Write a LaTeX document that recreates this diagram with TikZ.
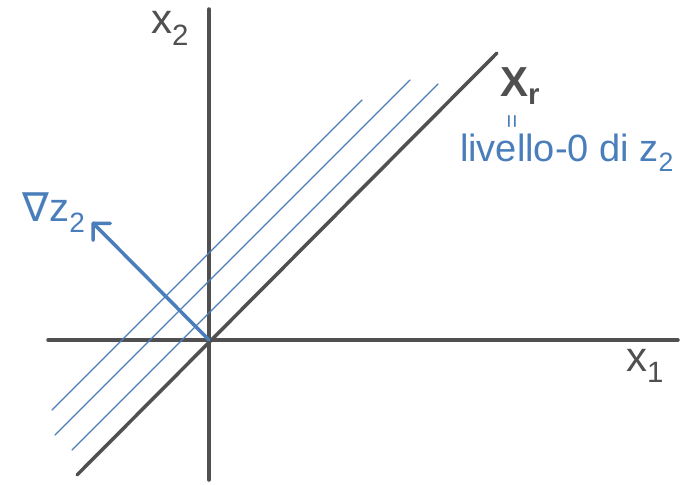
\documentclass[tikz,border=0pt]{standalone}
\usepackage{fontspec}
\setmainfont{Liberation Sans}
\newfontfamily\dejavu{DejaVu Sans}
\usetikzlibrary{arrows.meta}
\definecolor{axisgray}{HTML}{505050}
\definecolor{hblue}{HTML}{4A7EBB}
\begin{document}
\begin{tikzpicture}[x=1pt,y=-1pt,
  axisline/.style={draw=axisgray,line width=3.5pt,line cap=round},
  levelline/.style={draw=hblue,line width=1.4pt,line cap=round},
  gradarrow/.style={draw=hblue,line width=3.5pt,line cap=round,
    -{Straight Barb[length=12pt,width=24pt,line width=3.5pt,round]}},
  lab/.style={inner sep=0pt,text=axisgray},
  blab/.style={inner sep=0pt,text=hblue}]
\useasboundingbox (0,0) rectangle (692,484);
% axes
\coordinate (xl) at (48,340);
\coordinate (xr) at (678,340);
\coordinate (yt) at (209,9);
\coordinate (yb) at (209,480);
\coordinate (O) at (209,340);
\draw[axisline] (xl) -- (xr);
\draw[axisline] (yb) -- (yt);
% level lines
\coordinate (a1) at (52,410); \coordinate (b1) at (362,100);
\coordinate (a2) at (55,435); \coordinate (b2) at (410,80);
\coordinate (a3) at (72,450); \coordinate (b3) at (438,84);
\draw[levelline] (a1) -- (b1);
\draw[levelline] (a2) -- (b2);
\draw[levelline] (a3) -- (b3);
% X_r line
\coordinate (r1) at (77,475); \coordinate (r2) at (497,53);
\draw[axisline] (r1) -- (r2);
% gradient
\coordinate (g) at (92,222);
\draw[gradarrow] (O) -- (g);
% labels
\node[lab,font=\fontsize{42}{46}\selectfont] (x2) at (170,28) {x\textsubscript{2}};
\node[lab,font=\fontsize{42}{46}\selectfont] (x1) at (645,366) {x\textsubscript{1}};
\node[lab,font=\fontsize{42}{46}\selectfont\bfseries] (xrl) at (520,86) {X\textsubscript{r}};
\node[lab,text=hblue,font=\fontsize{24}{26}\selectfont] (eq) at (514,121) {\rotatebox{90}{=}};
\node[blab,font=\fontsize{38}{42}\selectfont] (lv) at (567,153) {livello-0 di z\textsubscript{2}};
\node[blab,font=\fontsize{40}{44}\selectfont] (nab) at (54,213) {{\dejavu ∇}z\textsubscript{2}};
\end{tikzpicture}
\end{document}
